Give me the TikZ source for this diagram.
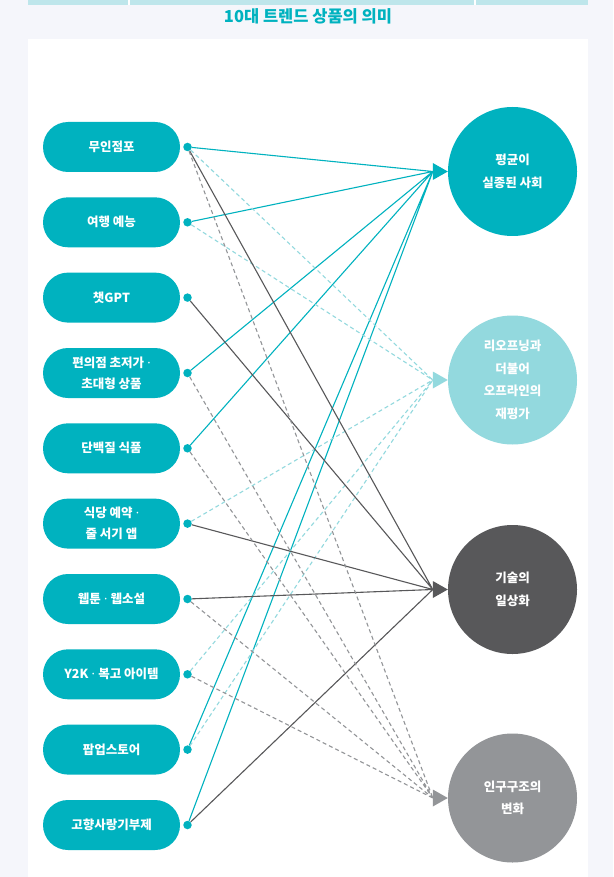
\documentclass[tikz,border=0pt]{standalone}
\usepackage{fontspec}
\setmainfont{Noto Sans CJK KR}
\newfontfamily\latinsans{Noto Sans}
\newcommand{\middot}{{\latinsans\bfseries\ ·\ }}
\usetikzlibrary{calc,positioning}
\definecolor{trendteal}{RGB}{0,178,191}
\definecolor{trendlight}{RGB}{147,217,222}
\definecolor{trenddark}{RGB}{88,88,90}
\definecolor{trendgray}{RGB}{147,149,152}
\definecolor{pagebg}{RGB}{245,246,251}
\definecolor{headbar}{RGB}{190,230,235}

\begin{document}
\begin{tikzpicture}[x=1pt,y=-1pt,
	pill/.style={fill=trendteal,rounded corners=25pt,minimum width=137pt,minimum height=50pt,inner sep=0pt,text=white,align=center,font=\fontsize{12.5}{21}\selectfont\bfseries},
	dot/.style={circle,fill=trendteal,minimum size=8.5pt,inner sep=0pt},
	goal/.style={circle,minimum size=129pt,inner sep=0pt,text=white,align=center,font=\fontsize{12.5}{22.5}\selectfont\bfseries},
	linkA/.style={trendteal,line width=1.1pt},
	linkB/.style={trendlight,line width=1.1pt,dash pattern=on 4pt off 3pt},
	linkC/.style={trenddark,line width=1.1pt},
	linkD/.style={trendgray,line width=1.1pt,dash pattern=on 4pt off 3pt}]
		\useasboundingbox (0,0) rectangle (613,877);
		% page, panel and header
		\fill[pagebg] (0,0) rectangle (613,877);
		\fill[white] (28,39) rectangle (588,877);
		\fill[headbar] (28,0) rectangle (588,5);
		\draw[white,line width=1.5pt] (129,0)--(129,5) (475,0)--(475,5);
		\node[text=trendteal,font=\fontsize{16.5}{16.5}\selectfont\bfseries] (title) at (308,16) {10대 트렌드 상품의 의미};
		% trend items
		\node[pill] (p1) at (111.5,147) {무인점포};
		\node[pill] (p2) at (111.5,222.3) {여행 예능};
		\node[pill] (p3) at (111.5,297.6) {챗GPT};
		\node[pill] (p4) at (111.5,373) {편의점 초저가\middot\\ 초대형 상품};
		\node[pill] (p5) at (111.5,448.3) {단백질 식품};
		\node[pill] (p6) at (111.5,523.6) {식당 예약\middot\\ 줄 서기 앱};
		\node[pill] (p7) at (111.5,599) {웹툰\middot 웹소설};
		\node[pill] (p8) at (111.5,674.3) {Y2K\middot 복고 아이템};
		\node[pill] (p9) at (111.5,749.6) {팝업스토어};
		\node[pill] (p10) at (111.5,825) {고향사랑기부제};
		\node[dot] (d1) at (187.5,147) {};
		\node[dot] (d2) at (187.5,222.3) {};
		\node[dot] (d3) at (187.5,297.6) {};
		\node[dot] (d4) at (187.5,373) {};
		\node[dot] (d5) at (187.5,448.3) {};
		\node[dot] (d6) at (187.5,523.6) {};
		\node[dot] (d7) at (187.5,599) {};
		\node[dot] (d8) at (187.5,674.3) {};
		\node[dot] (d9) at (187.5,749.6) {};
		\node[dot] (d10) at (187.5,825) {};
		% meanings
		\node[goal,fill=trendteal] (mA) at (512.5,171.5) {평균이\\ 실종된 사회};
		\node[goal,fill=trendlight] (mB) at (512.5,380) {리오프닝과\\ 더불어\\ 오프라인의\\ 재평가};
		\node[goal,fill=trenddark] (mC) at (512.5,589.5) {기술의\\ 일상화};
		\node[goal,fill=trendgray] (mD) at (512.5,798) {인구구조의\\ 변화};
		\coordinate (inA) at ($(mA.west)+(-15,0)$);
		\coordinate (inB) at ($(mB.west)+(-15,0)$);
		\coordinate (inC) at ($(mC.west)+(-15,0)$);
		\coordinate (inD) at ($(mD.west)+(-15,0)$);
		% links
		\draw[linkA] (d1)--(inA) (d2)--(inA) (d4)--(inA) (d5)--(inA) (d9)--(inA) (d10)--(inA);
		\draw[linkB] (d1)--(inB) (d2)--(inB) (d6)--(inB) (d8)--(inB) (d9)--(inB);
		\draw[linkC] (d1)--(inC) (d3)--(inC) (d6)--(inC) (d7)--(inC) (d10)--(inC);
		\draw[linkD] (d1)--(inD) (d4)--(inD) (d5)--(inD) (d7)--(inD) (d8)--(inD);
		% heads
		\fill[trendteal] (mA.west)--($(inA)+(0,-8.5)$)--($(inA)+(0,8.5)$)--cycle;
		\fill[trendlight] (mB.west)--($(inB)+(0,-8.5)$)--($(inB)+(0,8.5)$)--cycle;
		\fill[trenddark] (mC.west)--($(inC)+(0,-8.5)$)--($(inC)+(0,8.5)$)--cycle;
		\fill[trendgray] (mD.west)--($(inD)+(0,-8.5)$)--($(inD)+(0,8.5)$)--cycle;
\end{tikzpicture}
\end{document}
